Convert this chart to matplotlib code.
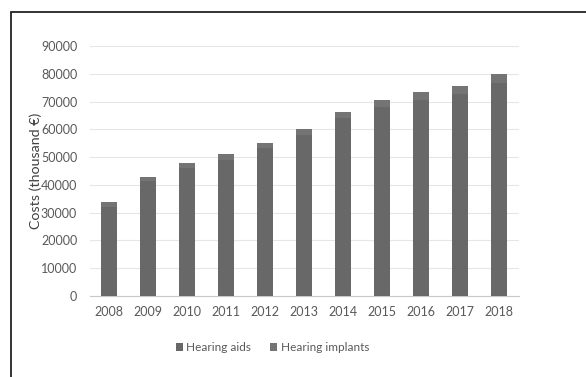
import matplotlib.pyplot as plt
from matplotlib.patches import Rectangle

years = ["2008", "2009", "2010", "2011", "2012", "2013", "2014", "2015", "2016", "2017", "2018"]
hearing_aids = [32200, 41300, 46000, 49100, 53200, 57800, 63900, 67900, 70500, 72600, 76700]
hearing_implants = [1500, 1650, 1750, 1900, 2000, 2200, 2450, 2650, 2800, 3000, 3200]
yticks = [0, 10000, 20000, 30000, 40000, 50000, 60000, 70000, 80000, 90000]

plt.rcParams["font.family"] = ["Lato", "DejaVu Sans"]

fig = plt.figure(figsize=(5.86, 3.77), dpi=100)
ax = fig.add_axes([0.153, 0.215, 0.732, 0.663])

x = range(len(years))
ax.bar(x, hearing_aids, width=0.42, color="#686868", label="Hearing aids", zorder=3)
ax.bar(x, hearing_implants, width=0.42, bottom=hearing_aids, color="#747474",
       label="Hearing implants", zorder=3)

ax.set_xlim(-0.5, len(years) - 0.5)
ax.set_ylim(0, 90000)
ax.set_yticks(yticks)
ax.set_yticklabels([str(v) for v in yticks])
ax.set_xticks(list(x))
ax.set_xticklabels(years)
ax.tick_params(axis="both", length=0, labelsize=9, colors="#595959")
ax.tick_params(axis="x", pad=7)
ax.tick_params(axis="y", pad=9)
ax.grid(axis="y", color="#e6e6e6", linewidth=0.8, zorder=0)
for s in ["top", "right", "left"]:
    ax.spines[s].set_visible(False)
ax.spines["bottom"].set_color("#c8c8c8")

ax.set_ylabel("Costs (thousand €)", fontsize=10.3, color="#404040")
ax.yaxis.set_label_coords(-0.112, 0.5)

fig.legend(loc="center", bbox_to_anchor=(0.465, 0.078), ncol=2, frameon=False,
           fontsize=8.5, handlelength=0.6, handleheight=0.6, handletextpad=0.3,
           columnspacing=1.6, labelcolor="#595959")

# outer frame (cropped scan)
fig.add_artist(Rectangle((11 / 586, -0.1), 1.2, 1 - 12 / 377 + 0.1,
                         transform=fig.transFigure, fill=False,
                         edgecolor="#222222", linewidth=1.3))

fig.savefig("out.png", dpi=100, facecolor="white")
